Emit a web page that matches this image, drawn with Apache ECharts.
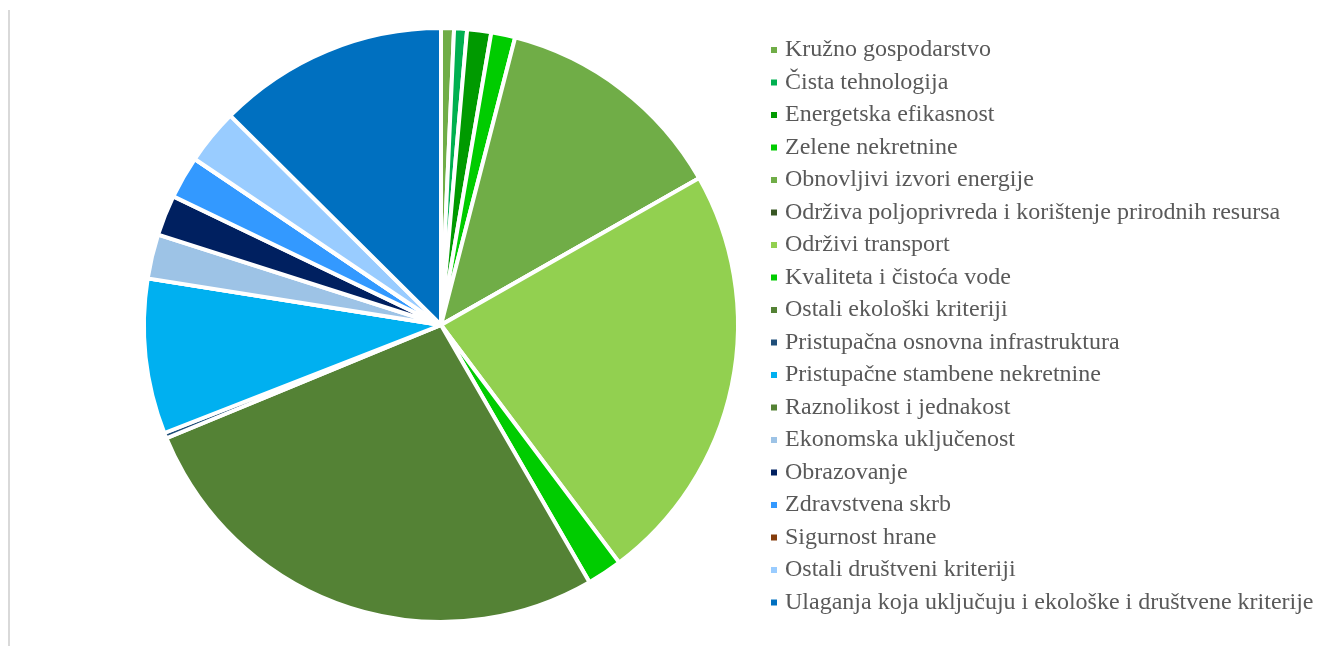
<!DOCTYPE html>
<html>
<head>
<meta charset="utf-8">
<script src="https://cdn.jsdelivr.net/npm/echarts@6/dist/echarts.min.js"></script>
<style>html,body{margin:0;padding:0;background:#fff}#c{width:1323px;height:646px}</style>
</head>
<body>
<div id="c"></div>
<script>
const categories = [
  "Kružno gospodarstvo",
  "Čista tehnologija",
  "Energetska efikasnost",
  "Zelene nekretnine",
  "Obnovljivi izvori energije",
  "Održiva poljoprivreda i korištenje prirodnih resursa",
  "Održivi transport",
  "Kvaliteta i čistoća vode",
  "Ostali ekološki kriteriji",
  "Pristupačna osnovna infrastruktura",
  "Pristupačne stambene nekretnine",
  "Raznolikost i jednakost",
  "Ekonomska uključenost",
  "Obrazovanje",
  "Zdravstvena skrb",
  "Sigurnost hrane",
  "Ostali društveni kriteriji",
  "Ulaganja koja uključuju i ekološke i društvene kriterije"
];
const values = [0.7, 0.7, 1.3, 1.3, 12.7, 0, 22.9, 1.9, 27.0, 0.3, 8.4, 0, 2.4, 2.2, 2.3, 0, 3.0, 12.5];
const colors = ["#70AD47","#00B050","#009A00","#00CC00","#70AD47","#375623","#92D050","#00CC00","#548235",
  "#1F4E79","#00B0F0","#548235","#9DC3E6","#002060","#3399FF","#843C0C","#99CCFF","#0070C0"];

const chart = echarts.init(document.getElementById('c'), null, {renderer:'canvas'});
chart.setOption({
  animation: false,
  color: colors,
  graphic: [{type:'rect', shape:{x:8, y:10, width:2, height:636}, style:{fill:'#d9d9d9'}}],
  legend: {
    orient: 'vertical',
    left: 764, top: 33, height: 610,
    itemWidth: 8, itemHeight: 8, itemGap: 8.5,
    icon: 'rect',
    textStyle: {fontFamily: 'Liberation Serif', fontSize: 24, color: '#595959', lineHeight: 24, padding:[0,0,0,2]},
    data: categories
  },
  series: [{
    type: 'pie',
    center: [441, 325],
    radius: 297,
    startAngle: 90,
    clockwise: true,
    avoidLabelOverlap: false,
    label: {show: false},
    labelLine: {show: false},
    emphasis: {disabled: true},
    itemStyle: {borderColor: '#fff', borderWidth: 4},
    data: categories.map((n, i) => ({name: n, value: values[i]}))
  }]
});
</script>
</body>
</html>
